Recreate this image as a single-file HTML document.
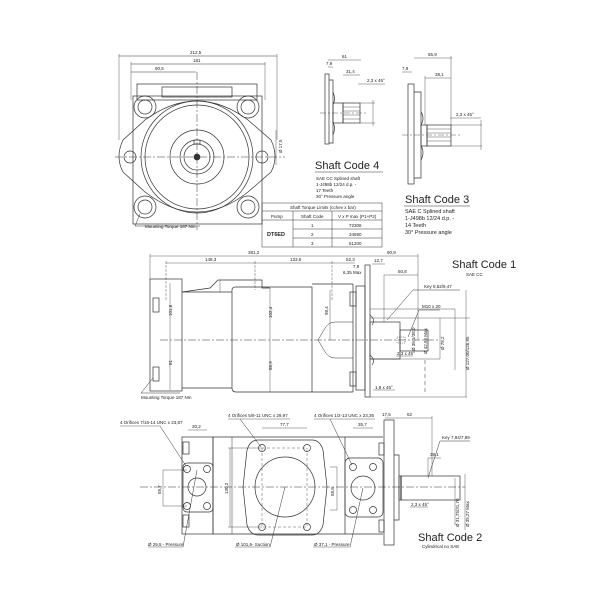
<!DOCTYPE html>
<html><head><meta charset="utf-8"><style>
body{margin:0;background:#fff}
svg{display:block}
text{font-family:"Liberation Sans",sans-serif;fill:#222}
.s{font-size:4.5px}
.m{font-size:5.5px}
.b{font-size:11px}
</style></head><body>
<svg width="600" height="600" viewBox="0 0 600 600" xmlns="http://www.w3.org/2000/svg" fill="none" stroke="#333" stroke-width="0.7">
<!-- FRONT VIEW -->
<g>
<line x1="119" y1="56" x2="277" y2="56" stroke-width="0.5"/><text x="190" y="54" class="s" stroke="none">212,5</text>
<line x1="131" y1="64" x2="265" y2="64" stroke-width="0.5"/><text x="193" y="62" class="s" stroke="none">181</text>
<line x1="131" y1="72" x2="196" y2="72" stroke-width="0.5"/><text x="155" y="70" class="s" stroke="none">90,5</text>
<line x1="119" y1="54" x2="119" y2="140" stroke-width="0.4"/><line x1="277" y1="54" x2="277" y2="140" stroke-width="0.4"/>
<line x1="131" y1="62" x2="131" y2="100" stroke-width="0.4"/><line x1="265" y1="62" x2="265" y2="100" stroke-width="0.4"/>
<rect x="137" y="84" width="120" height="16"/>
<rect x="162" y="87" width="70" height="10"/>
<rect x="133" y="96" width="129" height="128"/>
<path d="M145 120 L123 140 Q115 157 123 172 L145 192 Q197 232 248 192 L271 172 Q279 157 271 140 L248 120 Q197 82 145 120 Z"/>
<circle cx="145" cy="107" r="11"/><circle cx="145" cy="107" r="7"/>
<circle cx="248" cy="107" r="11"/><circle cx="248" cy="107" r="7"/>
<circle cx="145" cy="207" r="11"/><circle cx="145" cy="207" r="7"/>
<circle cx="248" cy="207" r="11"/><circle cx="248" cy="207" r="7"/>
<circle cx="130" cy="157" r="6"/><circle cx="262" cy="157" r="6"/>
<circle cx="197" cy="157" r="56"/><circle cx="197" cy="157" r="52"/>
<circle cx="197" cy="157" r="27"/>
<circle cx="197" cy="157" r="17"/><circle cx="197" cy="157" r="13"/><circle cx="197" cy="157" r="3" fill="#333"/>
<rect x="194" y="140" width="6" height="4"/>
<line x1="115" y1="157" x2="285" y2="157" stroke-dasharray="8 2 2 2" stroke-width="0.5"/>
<line x1="197" y1="72" x2="197" y2="230" stroke-dasharray="8 2 2 2" stroke-width="0.5"/>
<line x1="276" y1="130" x2="276" y2="165" stroke-width="0.4"/>
<text x="282" y="153" class="s" stroke="none" transform="rotate(-90 282 153)">Ø 17,5</text>
<path d="M140 214 L135 226 L200 226" stroke-width="0.5"/>
<text x="145" y="228" class="s" stroke="none">Mounting Torque 187 Nm</text>
</g>
<!-- TABLE -->
<g stroke-width="0.5">
<rect x="262" y="203" width="120" height="44"/>
<line x1="262" y1="211" x2="382" y2="211"/><line x1="262" y1="220" x2="382" y2="220"/>
<line x1="293" y1="211" x2="293" y2="247"/><line x1="332" y1="211" x2="332" y2="247"/>
<line x1="293" y1="229" x2="382" y2="229"/><line x1="293" y1="238" x2="382" y2="238"/>
<text x="290" y="209" class="s" stroke="none">Shaft Torque Limits (cchev x bar)</text>
<text x="271" y="218" class="s" stroke="none">Pump</text>
<text x="301" y="218" class="s" stroke="none">Shaft Code</text>
<text x="338" y="218" class="s" stroke="none">V x P max (P1+P2)</text>
<text x="267" y="236" class="m" stroke="none" font-weight="bold">DT6ED</text>
<text x="311" y="227" class="s" stroke="none">1</text><text x="311" y="236" class="s" stroke="none">2</text><text x="311" y="245" class="s" stroke="none">3</text>
<text x="349" y="227" class="s" stroke="none">72306</text><text x="349" y="236" class="s" stroke="none">34590</text><text x="349" y="245" class="s" stroke="none">61200</text>
</g>
<!-- SHAFT CODE 4 -->
<g>
<line x1="328" y1="60" x2="361" y2="60" stroke-width="0.4"/><text x="342" y="58" class="s" stroke="none">61</text>
<line x1="328" y1="67" x2="333" y2="67" stroke-width="0.4"/><text x="326" y="65" class="s" stroke="none">7,9</text>
<line x1="343" y1="75" x2="360" y2="75" stroke-width="0.4"/><text x="346" y="73" class="s" stroke="none">31,4</text>
<text x="367" y="82" class="s" stroke="none">2,3 x 45°</text><line x1="358" y1="84" x2="385" y2="84" stroke-width="0.4"/>
<rect x="325" y="74" width="4" height="70"/>
<path d="M329 80 L333 80 L333 143 L329 143"/>
<path d="M333 92 Q336 100 333 104 M333 122 Q336 128 333 135"/>
<rect x="333" y="103" width="10" height="20"/>
<rect x="343" y="103" width="17" height="20"/>
<line x1="343" y1="107" x2="360" y2="107" stroke-width="0.4"/><line x1="343" y1="111" x2="360" y2="111" stroke-width="0.4"/><line x1="343" y1="115" x2="360" y2="115" stroke-width="0.4"/><line x1="343" y1="119" x2="360" y2="119" stroke-width="0.4"/>
<line x1="320" y1="113" x2="368" y2="113" stroke-dasharray="6 2 2 2" stroke-width="0.4"/>
<line x1="360" y1="103" x2="375" y2="103" stroke-width="0.4"/><line x1="360" y1="123" x2="375" y2="123" stroke-width="0.4"/><line x1="373" y1="100" x2="373" y2="126" stroke-width="0.4"/>
<text x="315" y="169" class="b" stroke="none">Shaft Code 4</text>
<line x1="315" y1="172" x2="383" y2="172" stroke-width="0.5"/>
<text x="316" y="180" class="s" stroke="none">SAE CC   Splined shaft</text>
<text x="316" y="186" class="s" stroke="none">1-J498b 12/24 d.p. -</text>
<text x="316" y="192" class="s" stroke="none">17 Teeth</text>
<text x="316" y="198" class="s" stroke="none">30° Pressure angle</text>
</g>
<!-- SHAFT CODE 3 -->
<g>
<line x1="414" y1="58" x2="452" y2="58" stroke-width="0.4"/><text x="428" y="56" class="s" stroke="none">55,9</text>
<text x="402" y="70" class="s" stroke="none">7,9</text><line x1="402" y1="72" x2="412" y2="72" stroke-width="0.4"/>
<line x1="425" y1="78" x2="451" y2="78" stroke-width="0.4"/><text x="435" y="76" class="s" stroke="none">38,1</text>
<line x1="425" y1="76" x2="425" y2="125" stroke-width="0.4"/><line x1="451" y1="56" x2="451" y2="125" stroke-width="0.4"/>
<text x="456" y="116" class="s" stroke="none">2,3 x 45°</text><line x1="450" y1="118" x2="481" y2="118" stroke-width="0.4"/>
<rect x="408" y="84" width="6" height="100"/>
<path d="M414 92 L421 92 L421 178 L414 178"/>
<path d="M421 112 Q425 118 421 125 M421 146 Q425 152 421 160"/>
<rect x="421" y="125" width="6" height="21"/>
<rect x="427" y="125" width="24" height="21"/>
<line x1="427" y1="129" x2="451" y2="129" stroke-width="0.4"/><line x1="427" y1="133" x2="451" y2="133" stroke-width="0.4"/><line x1="427" y1="137" x2="451" y2="137" stroke-width="0.4"/><line x1="427" y1="141" x2="451" y2="141" stroke-width="0.4"/>
<line x1="402" y1="135" x2="460" y2="135" stroke-dasharray="6 2 2 2" stroke-width="0.4"/>
<line x1="451" y1="125" x2="482" y2="125" stroke-width="0.4"/><line x1="451" y1="146" x2="482" y2="146" stroke-width="0.4"/><line x1="481" y1="120" x2="481" y2="150" stroke-width="0.4"/>
<text x="405" y="203" class="b" stroke="none">Shaft Code 3</text>
<line x1="404" y1="206" x2="470" y2="206" stroke-width="0.5"/>
<text x="405" y="213" class="m" stroke="none">SAE C   Splined shaft</text>
<text x="405" y="220" class="m" stroke="none">1-J498b 12/24 d.p. -</text>
<text x="405" y="227" class="m" stroke="none">14 Teeth</text>
<text x="405" y="234" class="m" stroke="none">30° Pressure angle</text>
</g>
<!-- SIDE VIEW -->
<g>
<line x1="150" y1="256" x2="368" y2="256" stroke-width="0.4"/><text x="248" y="254" class="s" stroke="none">381,2</text>
<line x1="368" y1="256" x2="418" y2="256" stroke-width="0.4"/><text x="387" y="254" class="s" stroke="none">90,9</text>
<line x1="150" y1="254" x2="150" y2="280" stroke-width="0.4"/><line x1="418" y1="254" x2="418" y2="340" stroke-width="0.4"/>
<line x1="166" y1="263" x2="355" y2="263" stroke-width="0.4"/>
<text x="205" y="261" class="s" stroke="none">148,3</text><text x="290" y="261" class="s" stroke="none">133,6</text><text x="346" y="261" class="s" stroke="none">52,3</text>
<text x="374" y="262" class="s" stroke="none">12,7</text><line x1="372" y1="264" x2="385" y2="264" stroke-width="0.4"/>
<text x="353" y="268" class="s" stroke="none">7,9</text><text x="343" y="274" class="s" stroke="none">6,35 Max</text>
<line x1="166" y1="261" x2="166" y2="300" stroke-width="0.4" stroke-dasharray="3 1"/>
<line x1="255" y1="261" x2="255" y2="290" stroke-width="0.4" stroke-dasharray="3 1"/>
<line x1="332" y1="261" x2="332" y2="300" stroke-width="0.4" stroke-dasharray="3 1"/>
<rect x="150" y="279" width="32" height="112"/>
<rect x="153" y="298" width="6" height="14"/><rect x="153" y="367" width="6" height="14"/>
<path d="M182 292 L210 288 L218 280 L262 280 L262 288 L270 288"/>
<line x1="220" y1="280" x2="220" y2="292" stroke-width="0.4"/>
<line x1="182" y1="292" x2="232" y2="292"/><line x1="182" y1="388" x2="232" y2="388"/>
<path d="M232 290 Q232 287 236 287 L312 287 L312 392 L236 392 Q232 392 232 388 Z"/>
<line x1="312" y1="284" x2="353" y2="284"/><line x1="353" y1="284" x2="353" y2="392"/><line x1="312" y1="392" x2="353" y2="392"/>
<path d="M318 340 L324 330 Q328 322 335 322 L353 322 M318 340 L324 350 Q328 358 335 358 L353 358" stroke-width="0.5"/>
<rect x="350" y="292" width="6" height="14"/><rect x="350" y="372" width="6" height="14"/>
<rect x="356" y="286" width="9" height="104"/>
<rect x="365" y="265" width="5" height="132"/>
<path d="M370 315 Q376 320 372 325 M370 355 Q376 360 372 365" stroke-width="0.6"/>
<rect x="370" y="322" width="30" height="37"/>
<rect x="400" y="330" width="28" height="21"/>
<rect x="397" y="337" width="8" height="6" stroke-dasharray="1 1" stroke-width="0.5"/>
<line x1="370" y1="318" x2="470" y2="318" stroke-width="0.4"/><line x1="370" y1="359" x2="440" y2="359" stroke-width="0.4"/>
<line x1="370" y1="309" x2="455" y2="309" stroke-width="0.4"/><line x1="370" y1="397" x2="467" y2="397" stroke-width="0.4"/>
<line x1="384" y1="275" x2="418" y2="275" stroke-width="0.4"/><text x="398" y="273" class="s" stroke="none">50,8</text>
<line x1="384" y1="275" x2="384" y2="322" stroke-width="0.4"/>
<line x1="440" y1="318" x2="440" y2="359" stroke-width="0.4"/><line x1="455" y1="309" x2="455" y2="370" stroke-width="0.4"/><line x1="466" y1="290" x2="466" y2="397" stroke-width="0.4"/>
<text x="415" y="351" class="s" stroke="none" transform="rotate(-90 415 351)">Ø 38,1/38,0</text>
<text x="427" y="354" class="s" stroke="none" transform="rotate(-90 427 354)">Ø 42,98 Max</text>
<text x="444" y="350" class="s" stroke="none" transform="rotate(-90 444 350)">Ø 78,2</text>
<text x="469" y="370" class="s" stroke="none" transform="rotate(-90 469 370)">Ø 127,00/126,95</text>
<path d="M387 320 L413 290 L460 290" stroke-width="0.5"/><text x="424" y="288" class="s" stroke="none">Key 9,52/9,47</text>
<path d="M408 337 L419 310 L440 310" stroke-width="0.5"/><text x="422" y="308" class="s" stroke="none">M10 x 20</text>
<line x1="396" y1="356" x2="413" y2="356" stroke-width="0.4"/><text x="397" y="355" class="s" stroke="none">2,3 x 45°</text>
<line x1="373" y1="390" x2="395" y2="390" stroke-width="0.4"/><text x="375" y="389" class="s" stroke="none">1,8 x 45°</text>
<line x1="160" y1="340" x2="440" y2="340" stroke-dasharray="8 2 2 2" stroke-width="0.5"/>
<line x1="425" y1="360" x2="425" y2="395" stroke-dasharray="4 3" stroke-width="0.5"/>
<line x1="170" y1="283" x2="170" y2="390" stroke-width="0.4"/>
<text x="172" y="316" class="s" stroke="none" transform="rotate(-90 172 316)">101,6</text>
<text x="172" y="365" class="s" stroke="none" transform="rotate(-90 172 365)">81</text>
<line x1="270" y1="288" x2="270" y2="392" stroke-width="0.4"/>
<text x="272" y="318" class="s" stroke="none" transform="rotate(-90 272 318)">102,4</text>
<text x="272" y="370" class="s" stroke="none" transform="rotate(-90 272 370)">88,9</text>
<line x1="330" y1="290" x2="330" y2="340" stroke-width="0.4"/>
<text x="328" y="315" class="s" stroke="none" transform="rotate(-90 328 315)">98,4</text>
<path d="M153 378 L141 393 L180 393" stroke-width="0.5"/>
<text x="141" y="399" class="s" stroke="none">Mounting Torque 187 Nm</text>
<text x="452" y="268" class="b" stroke="none">Shaft Code 1</text>
<text x="466" y="276" class="s" stroke="none">SAE CC</text>
</g>
<!-- BOTTOM VIEW -->
<g>
<text x="120" y="424" class="s" stroke="none">4 Orifices 7/16-14 UNC x 23,87</text><line x1="120" y1="426" x2="160" y2="426" stroke-width="0.4"/>
<line x1="160" y1="426" x2="186" y2="466" stroke-width="0.5"/>
<text x="228" y="417" class="s" stroke="none">4 Orifices 5/8-11 UNC x 29,97</text><line x1="228" y1="419" x2="290" y2="419" stroke-width="0.4"/>
<line x1="240" y1="419" x2="261" y2="447" stroke-width="0.5"/>
<text x="314" y="417" class="s" stroke="none">4 Orifices 1/2-13 UNC x 23,36</text><line x1="314" y1="419" x2="375" y2="419" stroke-width="0.4"/>
<line x1="330" y1="419" x2="352" y2="465" stroke-width="0.5"/>
<line x1="188" y1="430" x2="207" y2="430" stroke-width="0.4"/><text x="192" y="428" class="s" stroke="none">30,2</text>
<line x1="262" y1="428" x2="307" y2="428" stroke-width="0.4"/><text x="280" y="426" class="s" stroke="none">77,7</text>
<line x1="353" y1="428" x2="373" y2="428" stroke-width="0.4"/><text x="358" y="426" class="s" stroke="none">35,7</text>
<text x="382" y="416" class="s" stroke="none">17,5</text><text x="407" y="416" class="s" stroke="none">62</text>
<line x1="385" y1="418" x2="432" y2="418" stroke-width="0.4"/><line x1="432" y1="416" x2="432" y2="476" stroke-width="0.4"/>
<rect x="182" y="437" width="31" height="97"/>
<rect x="183" y="442" width="6" height="12"/><rect x="183" y="515" width="6" height="12"/>
<rect x="183" y="463" width="30" height="49" rx="4"/>
<circle cx="187" cy="469" r="3.5"/><circle cx="207" cy="469" r="3.5"/><circle cx="187" cy="506" r="3.5"/><circle cx="207" cy="506" r="3.5"/>
<circle cx="197" cy="487" r="9"/>
<line x1="213" y1="437" x2="345" y2="437"/><line x1="213" y1="534" x2="345" y2="534"/>
<line x1="213" y1="437" x2="213" y2="534"/>
<line x1="232" y1="437" x2="232" y2="534" stroke-width="0.5"/>
<path d="M258 440 L312 440 Q320 440 323 450 L327 487 L323 525 Q320 535 312 535 L258 535 Q250 535 247 525 L243 487 L247 450 Q250 440 258 440 Z"/>
<circle cx="262" cy="448" r="3.5"/><circle cx="307" cy="448" r="3.5"/><circle cx="262" cy="527" r="3.5"/><circle cx="307" cy="527" r="3.5"/>
<rect x="262" y="448" width="45" height="79" stroke-dasharray="3 2" stroke-width="0.4"/>
<circle cx="285" cy="487" r="30"/>
<line x1="228" y1="448" x2="262" y2="448" stroke-width="0.4"/><line x1="228" y1="527" x2="262" y2="527" stroke-width="0.4"/><line x1="230" y1="448" x2="230" y2="527" stroke-width="0.4"/>
<text x="228" y="494" class="s" stroke="none" transform="rotate(-90 228 494)">130,2</text>
<line x1="345" y1="437" x2="345" y2="534"/><line x1="345" y1="437" x2="383" y2="437"/><line x1="345" y1="534" x2="383" y2="534"/>
<rect x="345" y="458" width="38" height="59" rx="5"/>
<circle cx="353" cy="467" r="3.5"/><circle cx="373" cy="467" r="3.5"/><circle cx="353" cy="510" r="3.5"/><circle cx="373" cy="510" r="3.5"/>
<circle cx="363" cy="488" r="12"/>
<path d="M330 467 L337 467 L337 510 L330 510" stroke-width="0.4"/>
<text x="334" y="496" class="s" stroke="none" transform="rotate(-90 334 496)">58,8</text>
<path d="M163 470 L163 506" stroke-width="0.4"/><path d="M163 470 L187 470 M163 506 L187 506" stroke-width="0.4"/>
<text x="161" y="494" class="s" stroke="none" transform="rotate(-90 161 494)">58,7</text>
<rect x="379" y="443" width="5" height="12"/><rect x="379" y="520" width="5" height="12"/>
<rect x="384" y="420" width="10" height="125"/>
<path d="M394 455 L399 455 L399 520 L394 520" />
<rect x="399" y="476" width="61" height="24"/>
<line x1="401" y1="476" x2="401" y2="500" stroke-width="1.2"/>
<line x1="428" y1="458" x2="441" y2="458" stroke-width="0.4"/><text x="430" y="456" class="s" stroke="none">38,1</text>
<line x1="428" y1="458" x2="428" y2="476" stroke-width="0.4"/>
<path d="M428 478 L440 441 L470 441" stroke-width="0.5"/><text x="442" y="439" class="s" stroke="none">Key 7,94/7,89</text>
<line x1="410" y1="507" x2="428" y2="507" stroke-width="0.4"/><text x="411" y="506" class="s" stroke="none">2,3 x 45°</text>
<line x1="455" y1="478" x2="455" y2="525" stroke-width="0.4"/><line x1="465" y1="474" x2="465" y2="530" stroke-width="0.4"/>
<text x="459" y="527" class="s" stroke="none" transform="rotate(-90 459 527)">Ø 31,75/31,70</text>
<text x="469" y="527" class="s" stroke="none" transform="rotate(-90 469 527)">Ø 35,27 Max</text>
<line x1="140" y1="487" x2="465" y2="487" stroke-dasharray="8 2 2 2" stroke-width="0.5"/>
<line x1="197" y1="470" x2="183" y2="547" stroke-width="0.5"/><line x1="148" y1="547" x2="183" y2="547" stroke-width="0.4"/>
<text x="148" y="546" class="s" stroke="none">Ø 29,5 - Pressure</text>
<line x1="285" y1="487" x2="270" y2="547" stroke-width="0.5"/><line x1="235" y1="547" x2="270" y2="547" stroke-width="0.4"/>
<text x="236" y="546" class="s" stroke="none">Ø 101,6- Suction</text>
<line x1="363" y1="488" x2="350" y2="547" stroke-width="0.5"/><line x1="313" y1="547" x2="350" y2="547" stroke-width="0.4"/>
<text x="314" y="546" class="s" stroke="none">Ø 37,1 - Pressure</text>
<text x="418" y="541" class="b" stroke="none">Shaft Code 2</text>
<text x="422" y="548" class="s" stroke="none">Cylindrical no SAE</text>
</g>
</svg>
</body></html>
